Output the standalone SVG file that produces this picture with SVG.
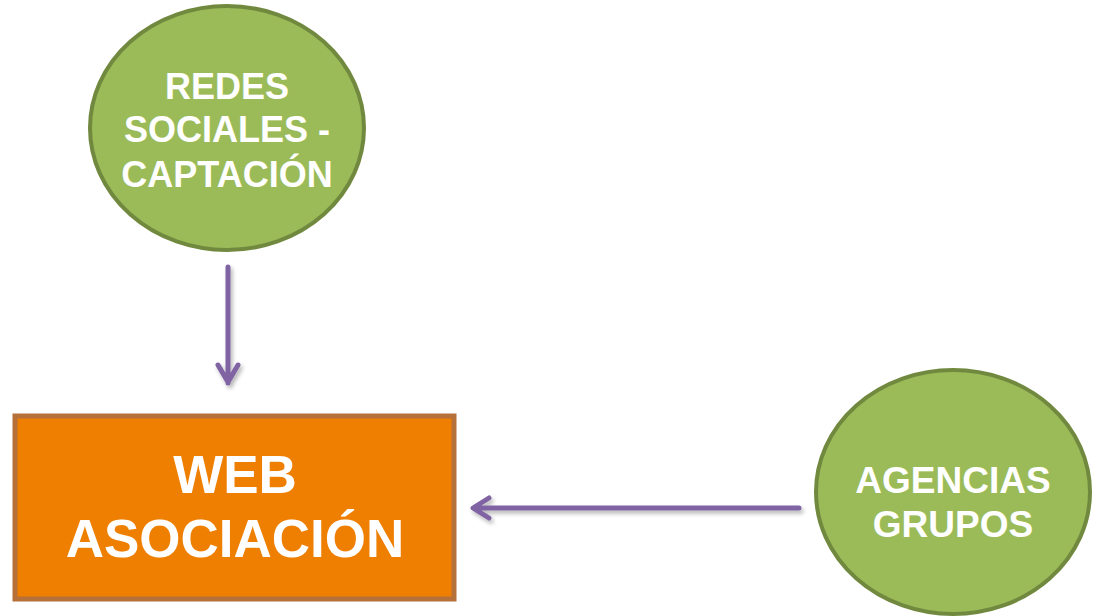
<svg xmlns="http://www.w3.org/2000/svg" width="1097" height="616" viewBox="0 0 1097 616">
<defs>
<style>
.circ{fill:#9BBB59;stroke:#71893F;stroke-width:4}
.box{fill:#EE7F00;stroke:#B6703A;stroke-width:5}
.lbl{font-family:"Liberation Sans",Arial,sans-serif;font-weight:bold;fill:#FFFFFF;text-anchor:middle}
.conn{fill:none;stroke:#8064A2;stroke-width:5;stroke-linecap:round;stroke-linejoin:round}
</style>
<filter id="sh" x="-20%" y="-20%" width="140%" height="140%">
<feGaussianBlur in="SourceAlpha" stdDeviation="2"/>
<feOffset dx="2" dy="3" result="b"/>
<feComponentTransfer><feFuncA type="linear" slope="0.3"/></feComponentTransfer>
<feMerge><feMergeNode/><feMergeNode in="SourceGraphic"/></feMerge>
</filter>
</defs>
<rect width="1097" height="616" fill="#FFFFFF"/>
<g id="redes">
<ellipse class="circ" cx="227" cy="128" rx="137" ry="122"/>
<text class="lbl" font-size="36" x="227" y="99">REDES</text>
<text class="lbl" font-size="36" x="227" y="142">SOCIALES -</text>
<text class="lbl" font-size="36" x="227" y="187">CAPTACIÓN</text>
</g>
<g id="web">
<rect class="box" x="15" y="416" width="439" height="183"/>
<text class="lbl" font-size="53" x="235" y="493">WEB</text>
<text class="lbl" font-size="53" x="235" y="557">ASOCIACIÓN</text>
</g>
<g id="agencias">
<ellipse class="circ" cx="953" cy="492" rx="137" ry="122"/>
<text class="lbl" font-size="37" x="953" y="493">AGENCIAS</text>
<text class="lbl" font-size="37" x="953" y="537">GRUPOS</text>
</g>
<g id="connectors" filter="url(#sh)">
<path class="conn" d="M228,267 V383 M218,365 L228,382 L238,365"/>
<path class="conn" d="M799,508 H474 M489,498 L473,508 L489,518"/>
</g>
</svg>
